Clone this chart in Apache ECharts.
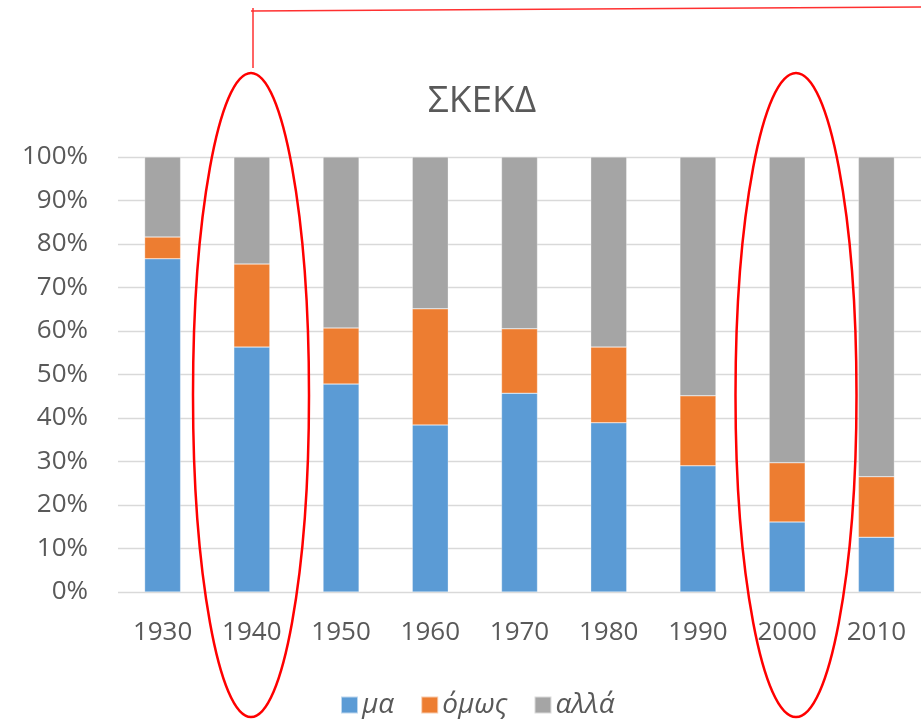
<!DOCTYPE html>
<html>
<head>
<meta charset="utf-8">
<script src="https://cdn.jsdelivr.net/npm/echarts@6/dist/echarts.min.js"></script>
<style>html,body{margin:0;padding:0;background:#fff}#c{width:921px;height:719px}</style>
</head>
<body>
<div id="c"></div>
<script>
const categories = ['1930','1940','1950','1960','1970','1980','1990','2000','2010'];
const seriesNames = ['μα','όμως','αλλά'];
const ma   = [76.6, 56.3, 47.8, 38.4, 45.7, 38.9, 29.0, 16.1, 12.6];
const omws = [5.0, 19.1, 12.9, 26.7, 14.8, 17.4, 16.1, 13.6, 13.9];
const alla = [18.4, 24.6, 39.3, 34.9, 39.5, 43.7, 54.9, 70.3, 73.5];
const titleText = 'ΣΚΕΚΔ';

const chart = echarts.init(document.getElementById('c'), null, {renderer: 'canvas'});
const font = 'Open Sans';
const mk = (name, data, color) => ({
  name, type: 'bar', stack: 'total', data, barWidth: 36,
  itemStyle: {color, borderColor: 'rgba(255,255,255,0.6)', borderWidth: 0.5},
  emphasis: {disabled: true}
});
chart.setOption({
  animation: false,
  title: {
    text: titleText, left: 477, top: 78, textAlign: 'center',
    textStyle: {fontFamily: font, fontSize: 37, fontWeight: 'normal', color: '#595959'}
  },
  legend: {
    data: seriesNames, left: 335, top: 686, itemWidth: 17, itemHeight: 17, itemGap: 26,
    icon: 'rect',
    textStyle: {fontFamily: font, fontSize: 28, fontStyle: 'italic', color: '#595959', padding: [0,0,0,-1]}
  },
  grid: {left: 118, top: 157, width: 805, height: 435, containLabel: false},
  xAxis: {
    type: 'category', data: categories,
    axisLine: {show: false}, axisTick: {show: false},
    axisLabel: {fontFamily: font, fontSize: 26, color: '#595959', margin: 28}
  },
  yAxis: {
    type: 'value', min: 0, max: 100, interval: 10,
    axisLine: {show: false}, axisTick: {show: false},
    splitLine: {lineStyle: {color: '#d9d9d9', width: 1.3}},
    axisLabel: {formatter: '{value}%', fontFamily: font, fontSize: 26, color: '#595959', margin: 30}
  },
  series: [
    mk(seriesNames[0], ma, '#5B9BD5'),
    mk(seriesNames[1], omws, '#ED7D31'),
    mk(seriesNames[2], alla, '#A5A5A5')
  ],
  graphic: [
    {type: 'ellipse', shape: {cx: 251, cy: 395, rx: 58, ry: 322}, style: {fill: null, stroke: '#ff0000', lineWidth: 2.5}, z: 100},
    {type: 'ellipse', shape: {cx: 796, cy: 395, rx: 60.5, ry: 322}, style: {fill: null, stroke: '#ff0000', lineWidth: 2.5}, z: 100},
    {type: 'polyline', shape: {points: [[253, 68], [253, 8]]}, style: {stroke: '#ff3030', lineWidth: 1.5, fill: null}, z: 100},
    {type: 'polyline', shape: {points: [[251, 11], [921, 7]]}, style: {stroke: '#ff3030', lineWidth: 1.5, fill: null}, z: 100}
  ]
});
</script>
</body>
</html>
